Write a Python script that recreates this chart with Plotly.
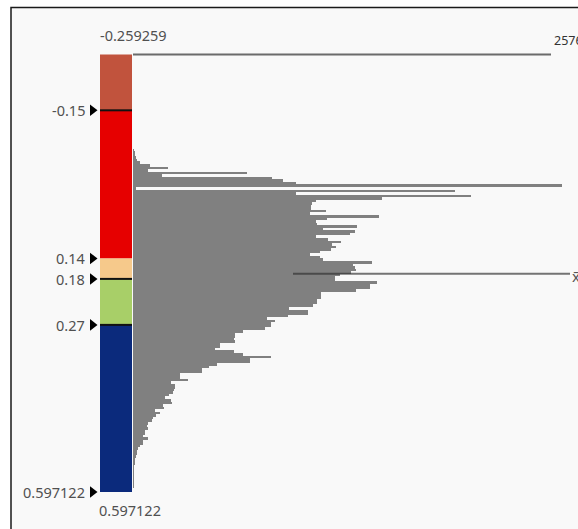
import plotly.graph_objects as go

# ---- data -------------------------------------------------------------
range_min = -0.259259
range_max = 0.597122
class_breaks = [-0.15, 0.14, 0.18, 0.27]
class_colors = ["#c1533d", "#e60000", "#f6c98b", "#a8cf68", "#0b2a7c"]
outlined_breaks = [-0.15, 0.18, 0.27]
break_labels = ["-0.15", "0.14", "0.18", "0.27", "0.597122"]
break_label_values = [-0.15, 0.14, 0.18, 0.27, 0.597122]
mean_value = 0.170
max_count = 2576

BIN_WIDTH = 0.005
FIRST_BIN_CENTER = -0.0725
bin_counts = [
    6, 12, 12, 18, 24, 42, 102, 210, 90, 685,
    174, 835, 900, 979, 2576, 20, 1932, 980, 2028, 1494,
    1100, 1074, 1068, 1068, 1158, 1062, 1476, 1164, 1098, 1104,
    1344, 1140, 1332, 1300, 1100, 1170, 1248, 1194, 1218, 1188,
    1122, 1062, 1122, 1140, 1434, 1320, 1332, 1338, 1308, 1242,
    1212, 1212, 1464, 1422, 1422, 1338, 1128, 1128, 1128, 1104,
    1104, 1080, 936, 1050, 1050, 930, 804, 852, 828, 828,
    792, 660, 612, 612, 606, 612, 522, 522, 492, 606,
    660, 828, 702, 702, 504, 456, 414, 414, 282, 282,
    330, 228, 252, 252, 246, 240, 216, 192, 228, 234,
    180, 186, 132, 162, 138, 120, 114, 90, 84, 90,
    72, 72, 60, 90, 60, 60, 42, 30, 24, 24,
    18, 12, 8, 8, 6, 6, 5, 3, 3, 2,
    2, 1, 1, 0,
]
bin_centers = [FIRST_BIN_CENTER + i * BIN_WIDTH for i in range(len(bin_counts))]

# ---- layout geometry (pixels) ----------------------------------------
W, H = 578, 529
Y_TOP_PX, Y_BOT_PX = 54.5, 492.0      # where range_min / range_max sit
ZERO_PX, MAX_PX = 133.0, 562.0        # histogram baseline / max count
BAR_X0, BAR_X1 = 100.0, 132.0         # colour ramp column

px_per_unit = (Y_BOT_PX - Y_TOP_PX) / (range_max - range_min)
y_top_val = range_min - Y_TOP_PX / px_per_unit
y_bot_val = range_min + (H - Y_TOP_PX) / px_per_unit

cnt_per_px = max_count / (MAX_PX - ZERO_PX)
x_lo = -ZERO_PX * cnt_per_px
x_hi = (W - ZERO_PX) * cnt_per_px

FONT = "Noto Sans, Open Sans, sans-serif"
TXT = "#505050"
LABEL_SIZE = 14.5

fig = go.Figure()

fig.add_trace(go.Bar(
    x=bin_counts, y=bin_centers, orientation="h", width=BIN_WIDTH,
    marker=dict(color="#808080", line=dict(width=0)),
    hoverinfo="skip", showlegend=False,
))

# arrow markers next to the class breaks
fig.add_trace(go.Scatter(
    x=[92.5] * len(break_label_values), y=break_label_values,
    xaxis="x2", yaxis="y", mode="markers",
    marker=dict(symbol="triangle-right", size=10, color="black", line=dict(width=0)),
    hoverinfo="skip", showlegend=False,
))

shapes = []
# frame
shapes.append(dict(type="rect", xref="paper", yref="paper",
                   x0=11 / W, x1=1.05, y0=-0.05, y1=1 - 7.5 / H,
                   line=dict(color="#1a1a1a", width=1.5), fillcolor="#f9f9f9",
                   layer="below"))
# colour ramp segments
edges = [range_min] + class_breaks + [range_max]
for c, a, b in zip(class_colors, edges[:-1], edges[1:]):
    shapes.append(dict(type="rect", xref="x2", yref="y", x0=BAR_X0, x1=BAR_X1,
                       y0=a, y1=b, fillcolor=c, line=dict(width=0)))
for v in outlined_breaks:
    shapes.append(dict(type="line", xref="x2", yref="y", x0=BAR_X0, x1=BAR_X1,
                       y0=v, y1=v, line=dict(color="#111111", width=2)))
# max-count rule at the top
shapes.append(dict(type="line", xref="x2", yref="y", x0=ZERO_PX, x1=551,
                   y0=range_min, y1=range_min, line=dict(color="#6b6b6b", width=2)))
# mean line
shapes.append(dict(type="line", xref="x2", yref="y", x0=293, x1=570,
                   y0=mean_value, y1=mean_value,
                   line=dict(color="rgba(45,45,45,0.65)", width=2)))

annotations = []
for txt, v in zip(break_labels, break_label_values):
    annotations.append(dict(x=87, y=v, xref="x2", yref="y", text=txt,
                            showarrow=False, xanchor="right", yanchor="middle",
                            font=dict(family=FONT, size=LABEL_SIZE, color=TXT)))
annotations.append(dict(x=ZERO_PX, y=range_min, xref="x2", yref="y",
                        text=f"{range_min:.6f}", showarrow=False,
                        xanchor="center", yanchor="middle", yshift=19.5,
                        font=dict(family=FONT, size=LABEL_SIZE, color=TXT)))
annotations.append(dict(x=130, y=range_max, xref="x2", yref="y",
                        text=f"{range_max:.6f}", showarrow=False,
                        xanchor="center", yanchor="middle", yshift=-18,
                        font=dict(family=FONT, size=LABEL_SIZE, color=TXT)))
annotations.append(dict(x=552, y=range_min, xref="x2", yref="y",
                        text=str(max_count), showarrow=False,
                        xanchor="left", yanchor="middle", yshift=14,
                        font=dict(family=FONT, size=12.5, color="#333333")))
annotations.append(dict(x=570, y=mean_value, xref="x2", yref="y",
                        text="x\u0304", showarrow=False,
                        xanchor="left", yanchor="middle", yshift=-2,
                        font=dict(family=FONT, size=15, color="#555555")))

fig.update_layout(
    width=W, height=H,
    margin=dict(l=0, r=0, t=0, b=0, pad=0),
    paper_bgcolor="white", plot_bgcolor="rgba(0,0,0,0)",
    bargap=0,
    shapes=shapes, annotations=annotations,
    xaxis=dict(range=[x_lo, x_hi], visible=False, fixedrange=True),
    xaxis2=dict(range=[0, W], overlaying="x", visible=False, fixedrange=True),
    yaxis=dict(range=[y_bot_val, y_top_val], visible=False, fixedrange=True),
    showlegend=False,
)

fig.write_html("out.html")
